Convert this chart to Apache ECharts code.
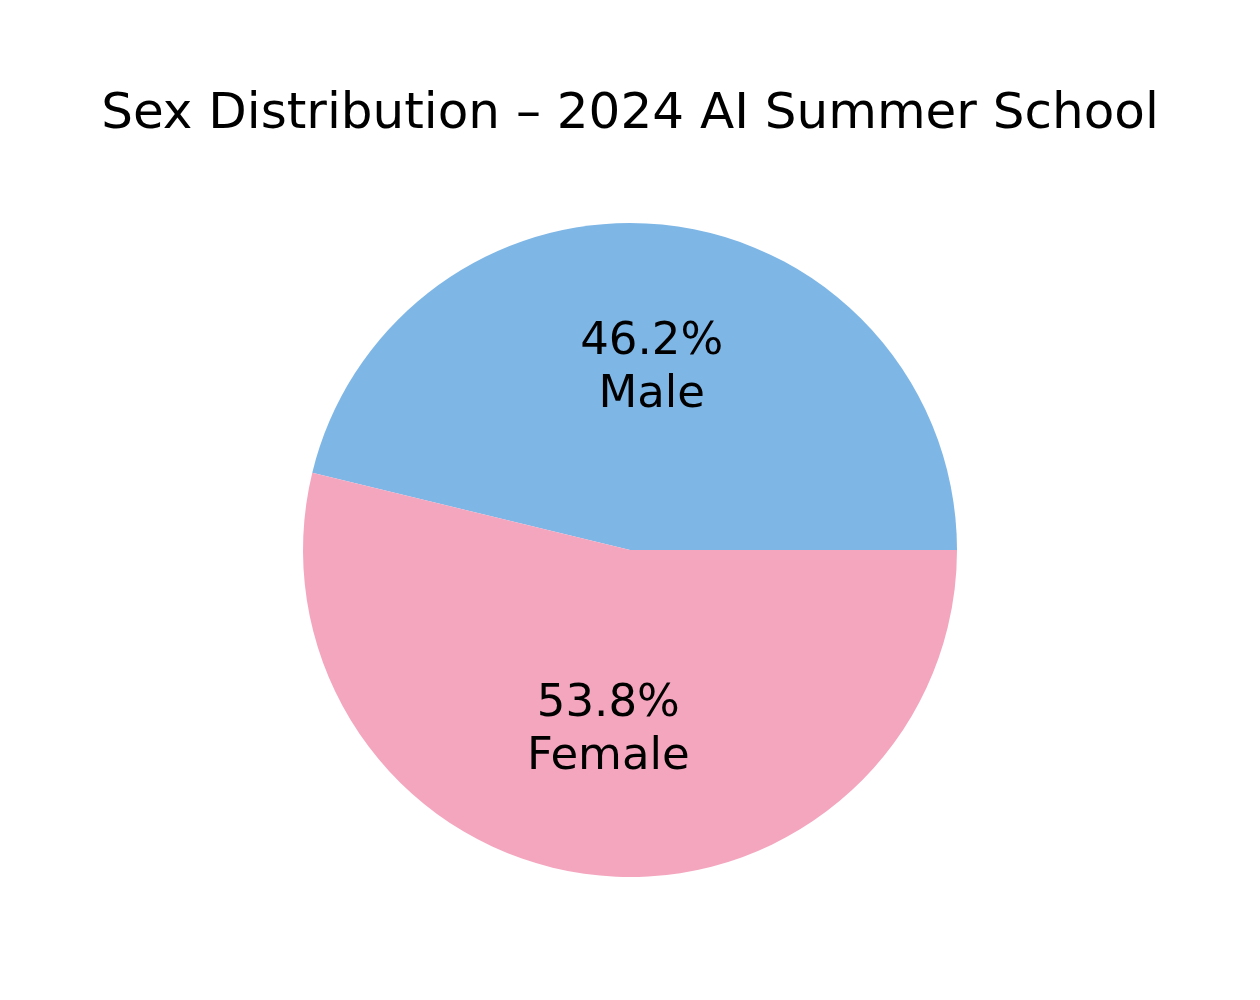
<!DOCTYPE html>
<html>
<head>
<meta charset="utf-8">
<script src="https://cdn.jsdelivr.net/npm/echarts@6/dist/echarts.min.js"></script>
<style>
  html, body { margin: 0; padding: 0; background: #fff; }
  #chart { width: 1260px; height: 1000px; }
</style>
</head>
<body>
<div id="chart"></div>
<script>
const categories = ["Male", "Female"];
const shares = [46.2, 53.8];
const colorList = ["#7eb6e6", "#f4a6bf"];

const font = "DejaVu Sans";
const pieData = categories.map((name, i) => ({ name: name, value: shares[i] }));

const chart = echarts.init(document.getElementById("chart"), null, { renderer: "canvas" });
chart.setOption({
  animation: false,
  color: colorList,
  title: {
    text: "Sex Distribution \u2013 2024 AI Summer School",
    left: "center",
    top: 85,
    textStyle: {
      fontFamily: font,
      fontSize: 50,
      fontWeight: "normal",
      color: "#000"
    }
  },
  series: [
    {
      // the slices
      type: "pie",
      center: [630, 550],
      radius: [0, 327],
      startAngle: 0,
      clockwise: false,
      silent: true,
      label: { show: false },
      labelLine: { show: false },
      itemStyle: { borderWidth: 0 },
      data: pieData
    },
    {
      // transparent copy, only carries the labels a bit further out
      type: "pie",
      center: [630, 550],
      radius: [0, 358],
      startAngle: 0,
      clockwise: false,
      silent: true,
      percentPrecision: 1,
      itemStyle: { color: "rgba(0,0,0,0)", borderWidth: 0 },
      labelLine: { show: false },
      label: {
        show: true,
        position: "inside",
        formatter: "{d}%\n{b}",
        fontFamily: font,
        fontSize: 45,
        lineHeight: 53,
        color: "#000",
        align: "center"
      },
      emphasis: { disabled: true },
      data: pieData
    }
  ]
});
</script>
</body>
</html>
